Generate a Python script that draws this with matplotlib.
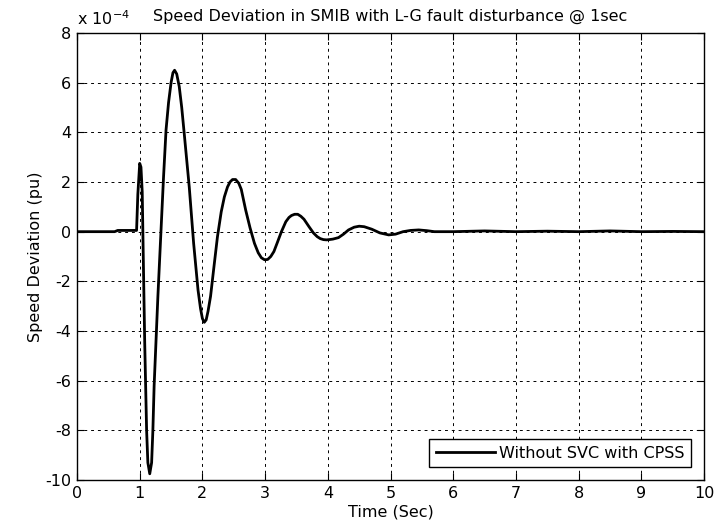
import matplotlib.pyplot as plt

plt.rcParams['font.family'] = ['DejaVu Sans']

# time (s) and speed deviation (x 1e-4 pu)
t = [0, 0.6, 0.65, 0.95, 0.97, 1.0, 1.02, 1.04, 1.06, 1.08, 1.11, 1.13, 1.16, 1.19,
     1.21, 1.23, 1.26, 1.29, 1.34, 1.38, 1.42, 1.46, 1.50, 1.53, 1.556, 1.59, 1.63,
     1.67, 1.71, 1.79, 1.86, 1.93, 1.97, 2.00, 2.03, 2.06, 2.09, 2.13, 2.18, 2.24,
     2.30, 2.35, 2.40, 2.44, 2.48, 2.53, 2.58, 2.62, 2.69, 2.76, 2.83, 2.89, 2.94,
     2.99, 3.04, 3.09, 3.14, 3.19, 3.26, 3.33, 3.38, 3.42, 3.47, 3.52, 3.57, 3.62,
     3.70, 3.77, 3.83, 3.88, 3.93, 3.98, 4.02, 4.08, 4.17, 4.25, 4.33, 4.42, 4.50,
     4.58, 4.70, 4.83, 4.97, 5.08, 5.20, 5.32, 5.45, 5.58, 5.70, 6.0, 6.5, 7.0, 7.5,
     8.0, 8.5, 9.0, 9.5, 10.0]
dw = [0, 0, 0.05, 0.05, 1.5, 2.75, 2.6, 1.6, -1.5, -4.5, -8.0, -9.3, -9.75, -9.3,
      -8.0, -6.2, -4.4, -2.6, 0.07, 2.2, 4.1, 5.2, 6.0, 6.4, 6.5, 6.35, 5.85,
      5.0, 3.95, 1.8, -0.47, -2.35, -3.1, -3.5, -3.65, -3.55, -3.2, -2.6, -1.5, -0.2,
      0.8, 1.4, 1.8, 2.0, 2.1, 2.1, 1.95, 1.7, 0.87, 0.15, -0.47, -0.85, -1.05,
      -1.13, -1.12, -1.0, -0.8, -0.47, 0.0, 0.4, 0.57, 0.65, 0.7, 0.7, 0.62, 0.5,
      0.2, -0.05, -0.2, -0.28, -0.32, -0.33, -0.32, -0.3, -0.24, -0.1, 0.07, 0.18, 0.22,
      0.2, 0.1, -0.05, -0.13, -0.1, 0.0, 0.05, 0.07, 0.04, 0.0, 0.0, 0.03, 0.0, 0.02,
      0.0, 0.03, 0.0, 0.01, 0.0]

fig = plt.figure(figsize=(7.15, 5.28), dpi=100)
ax = fig.add_axes([0.1077, 0.0909, 0.877, 0.8466])

ax.plot(t, [v * 1e-4 for v in dw], color='black', lw=2.0, label='Without SVC with CPSS')

ax.set_xlim(0, 10)
ax.set_ylim(-10e-4, 8e-4)
ax.set_xticks(range(0, 11))
ax.set_yticks([v * 1e-4 for v in range(-10, 9, 2)])
ax.set_yticklabels([str(v) for v in range(-10, 9, 2)])
ax.tick_params(direction='in', top=True, right=True, labelsize=11.5, length=5, pad=4)
ax.grid(True, color='black', linestyle=(0, (3, 4)), linewidth=0.7)
for s in ax.spines.values():
    s.set_linewidth(1.0)

ax.set_xlabel('Time (Sec)', fontsize=11.5, labelpad=3)
ax.set_ylabel('Speed Deviation (pu)', fontsize=11.5, labelpad=2)
ax.set_title('Speed Deviation in SMIB with L-G fault disturbance @ 1sec', fontsize=11.5, pad=9)
ax.text(0.0, 1.012, r'x 10$^{-4}$', transform=ax.transAxes, fontsize=11.5, va='bottom', ha='left')

leg = ax.legend(loc='lower right', fontsize=11.5, fancybox=False, edgecolor='black',
                framealpha=1, handlelength=3.7, handletextpad=0.3, borderaxespad=0.8)
leg.get_frame().set_linewidth(1.0)

fig.savefig('out.png', dpi=100)
